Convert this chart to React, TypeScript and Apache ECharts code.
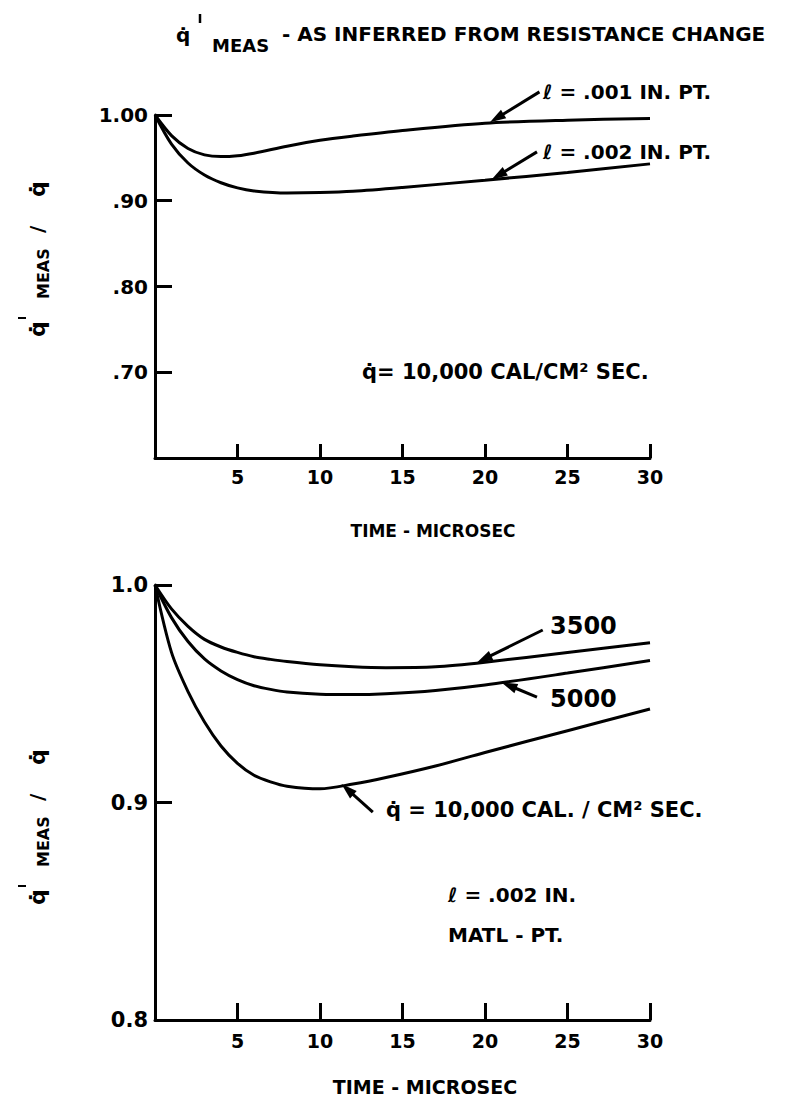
import React, { useEffect, useRef } from 'react';
import * as echarts from 'echarts';

// ---------- data ----------
const TOP_T = [0, 1, 2, 3, 4, 5, 6, 8, 10, 12, 15, 20, 25, 30];
const TOP_L001 = [1.0, 0.976, 0.961, 0.9535, 0.9515, 0.9525, 0.9555, 0.9635, 0.9705, 0.9755, 0.982, 0.9905, 0.994, 0.996];
const TOP_L002 = [1.0, 0.966, 0.944, 0.93, 0.921, 0.915, 0.9115, 0.909, 0.9095, 0.911, 0.9155, 0.924, 0.933, 0.943];

const BOT_T = [0, 1, 2, 3, 4, 5, 6, 7, 8, 10, 12, 14, 17, 20, 25, 30];
const BOT_Q3500 = [1.0, 0.989, 0.981, 0.975, 0.9715, 0.969, 0.967, 0.9658, 0.9648, 0.9633, 0.9624, 0.962, 0.9624, 0.9645, 0.969, 0.9734];
const BOT_Q5000 = [1.0, 0.985, 0.974, 0.966, 0.9605, 0.9565, 0.9537, 0.952, 0.9508, 0.9498, 0.9496, 0.95, 0.9515, 0.954, 0.9595, 0.9653];
const BOT_Q10000 = [1.0, 0.969, 0.951, 0.937, 0.926, 0.918, 0.9125, 0.9095, 0.9075, 0.9063, 0.9085, 0.9115, 0.9168, 0.923, 0.933, 0.943];

const X_TICK_LABELS = ['', '5', '10', '15', '20', '25', '30'];
const TOP_Y_TICK_LABELS = ['', '.70', '.80', '.90', '1.00'];
const BOT_Y_TICK_LABELS = ['0.8', '0.9', '1.0'];

// annotation arrows: grid index, from (t, v), to (t, v) in data units
const ARROWS: [number, number[], number[]][] = [
  [0, [23.3, 1.027], [20.3, 0.9915]],
  [0, [23.15, 0.957], [20.4, 0.9248]],
  [1, [23.5, 0.9793], [19.5, 0.9643]],
  [1, [23.15, 0.9485], [21.0, 0.9552]],
  [1, [13.2, 0.8956], [11.3, 0.9085]],
];

const FONT = '"DejaVu Sans", "Liberation Sans", sans-serif';
const f = (size: number) => `bold ${size}px ${FONT}`;

function txt(x: number, y: number, text: string, size: number, align: string = 'left') {
  return {
    type: 'text',
    x,
    y,
    style: { text, font: f(size), fill: '#000', align, verticalAlign: 'middle' },
  };
}

function seg(x1: number, y1: number, x2: number, y2: number, w: number = 2) {
  return { type: 'line', shape: { x1, y1, x2, y2 }, style: { stroke: '#000', lineWidth: w } };
}

function yName(x: number, y: number) {
  return {
    type: 'group',
    x,
    y,
    rotation: Math.PI / 2,
    children: [
      txt(0, 0, 'q\u0307', 22),
      seg(19, -19, 19, -11, 2),
      txt(38, 6, 'MEAS', 16),
      txt(104, 0, '/', 20),
      txt(140, 0, 'q\u0307', 22),
    ],
  };
}

function lineSeries(t: number[], v: number[], idx: number) {
  return {
    type: 'line',
    xAxisIndex: idx,
    yAxisIndex: idx,
    data: t.map((x, i) => [x, v[i]]),
    showSymbol: false,
    smooth: 0.3,
    lineStyle: { color: '#000', width: 3 },
  };
}

function xAxis(idx: number, tickLen: number, margin: number, size: number) {
  return {
    type: 'value',
    gridIndex: idx,
    min: 0,
    max: 30,
    interval: 5,
    axisLine: { lineStyle: { color: '#000', width: 3 } },
    axisTick: { inside: true, length: tickLen, lineStyle: { color: '#000', width: 3 } },
    splitLine: { show: false },
    axisLabel: {
      color: '#000',
      fontWeight: 'bold',
      fontFamily: FONT,
      fontSize: size,
      margin,
      formatter: (val: number) => X_TICK_LABELS[Math.round(val / 5)] ?? '',
    },
  };
}

function yAxis(idx: number, min: number, max: number, labels: string[], size: number) {
  return {
    type: 'value',
    gridIndex: idx,
    min,
    max,
    interval: 0.1,
    axisLine: { show: true, lineStyle: { color: '#000', width: 3 } },
    axisTick: { show: true, inside: true, length: 17, lineStyle: { color: '#000', width: 3 } },
    splitLine: { show: false },
    axisLabel: {
      color: '#000',
      fontWeight: 'bold',
      fontFamily: FONT,
      fontSize: size,
      margin: 7,
      formatter: (val: number) => labels[Math.round((val - min) / 0.1)] ?? '',
    },
  };
}

const TEXTS = [
  // title
  txt(176, 35, 'q\u0307', 20),
  seg(200, 14, 200, 23, 2.5),
  txt(212, 45, 'MEAS', 18),
  txt(282, 34, '- AS INFERRED FROM RESISTANCE CHANGE', 20),
  // y axis names
  yName(37, 337),
  yName(37, 905),
  // x axis names
  txt(433, 531, 'TIME - MICROSEC', 17, 'center'),
  txt(425, 1087, 'TIME - MICROSEC', 19, 'center'),
  // top annotations
  txt(543, 92, '\u2113 = .001 IN. PT.', 20),
  txt(543, 152, '\u2113 = .002 IN. PT.', 20),
  txt(362, 372, 'q\u0307= 10,000 CAL/CM\u00B2 SEC.', 21),
  // bottom annotations
  txt(550, 626, '3500', 24),
  txt(550, 699, '5000', 24),
  txt(386, 810, 'q\u0307 = 10,000 CAL. / CM\u00B2 SEC.', 21),
  txt(448, 895, '\u2113 = .002 IN.', 20),
  txt(448, 935, 'MATL - PT.', 20),
];

export default function App() {
  const ref = useRef<HTMLDivElement>(null);
  useEffect(() => {
    if (!ref.current) return;
    const chart = echarts.init(ref.current, undefined, { renderer: 'svg' });
    chart.setOption({
      animation: false,
      backgroundColor: '#fff',
      textStyle: { fontFamily: FONT },
      grid: [
        { left: 155, top: 115, width: 495, height: 343 },
        { left: 155, top: 585, width: 495, height: 435 },
      ],
      xAxis: [xAxis(0, 14, 9, 19), xAxis(1, 17, 11, 19)],
      yAxis: [yAxis(0, 0.6, 1.0, TOP_Y_TICK_LABELS, 20), yAxis(1, 0.8, 1.0, BOT_Y_TICK_LABELS, 21)],
      series: [
        lineSeries(TOP_T, TOP_L001, 0),
        lineSeries(TOP_T, TOP_L002, 0),
        lineSeries(BOT_T, BOT_Q3500, 1),
        lineSeries(BOT_T, BOT_Q5000, 1),
        lineSeries(BOT_T, BOT_Q10000, 1),
      ],
    });
    // arrows placed through the grids' own scales
    const arrows: any[] = [];
    ARROWS.forEach(([g, from, to]) => {
      const p0 = chart.convertToPixel({ gridIndex: g }, from) as number[];
      const p1 = chart.convertToPixel({ gridIndex: g }, to) as number[];
      const dx = p1[0] - p0[0];
      const dy = p1[1] - p0[1];
      const len = Math.sqrt(dx * dx + dy * dy);
      const ux = dx / len;
      const uy = dy / len;
      const hl = 16;
      const hw = 5;
      const bx = p1[0] - ux * hl;
      const by = p1[1] - uy * hl;
      arrows.push(seg(p0[0], p0[1], bx + ux * 2, by + uy * 2, 3));
      arrows.push({
        type: 'polygon',
        shape: {
          points: [
            [p1[0], p1[1]],
            [bx - uy * hw, by + ux * hw],
            [bx + uy * hw, by - ux * hw],
          ],
        },
        style: { fill: '#000' },
      });
    });
    chart.setOption({ graphic: [...TEXTS, ...arrows] });
    return () => chart.dispose();
  }, []);
  return (
    <div
      ref={ref}
      style={{ position: 'absolute', left: 0, top: 0, width: 785, height: 1106, background: '#fff' }}
    />
  );
}
